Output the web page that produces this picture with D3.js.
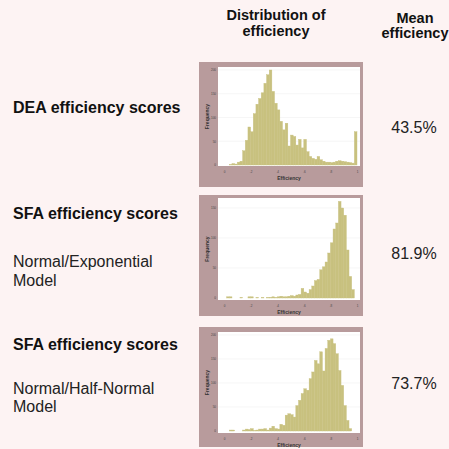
<!DOCTYPE html>
<html>
<head>
<meta charset="utf-8">
<script src="https://cdn.jsdelivr.net/npm/d3@7"></script>
<style>
  body { margin: 0; background: #fdf3f3; }
  svg { display: block; font-family: "Liberation Sans", Arial, sans-serif; }
</style>
</head>
<body>
<div id="chart"></div>
<script>
// bin starts (efficiency, bin width 0.02)
const binStarts = [0.00,0.02,0.04,0.06,0.08,0.10,0.12,0.14,0.16,0.18,
                   0.20,0.22,0.24,0.26,0.28,0.30,0.32,0.34,0.36,0.38,
                   0.40,0.42,0.44,0.46,0.48,0.50,0.52,0.54,0.56,0.58,
                   0.60,0.62,0.64,0.66,0.68,0.70,0.72,0.74,0.76,0.78,
                   0.80,0.82,0.84,0.86,0.88,0.90,0.92,0.94,0.96,0.98];
const binWidth = 0.02;

// frequencies
const deaFreq = [0,0,1,3,2,6,8,30,52,80,
                 70,108,128,140,152,172,190,200,155,130,
                 116,92,74,88,40,63,60,42,54,36,
                 54,28,18,14,12,18,11,8,6,6,
                 5,6,8,9,8,7,6,5,4,70];
const sfaExpFreq = [0,2,2,0,0,0,1,0,0,2,
                    2,0,1,0,1,0,1,1,2,1,
                    2,3,2,2,3,4,3,5,6,16,
                    10,8,14,20,29,31,47,52,60,75,
                    92,115,125,161,150,138,80,36,14,0];
const sfaHalfFreq = [0,0,2,2,0,0,0,2,4,3,
                     5,1,2,4,4,5,2,6,10,5,
                     4,14,12,33,36,34,29,53,64,78,
                     88,85,109,123,147,140,165,125,172,189,
                     192,182,161,126,95,53,22,5,0,0];

const rowTitles = ["DEA efficiency scores", "SFA efficiency scores", "SFA efficiency scores"];
const rowSubtitles = [[], ["Normal/Exponential", "Model"], ["Normal/Half-Normal", "Model"]];
const meanEff = ["43.5%", "81.9%", "73.7%"];
const xTicks = [0, 0.2, 0.4, 0.6, 0.8, 1];
const xTickLabels = ["0", ".2", ".4", ".6", ".8", "1"];
const yTicks = [[0, 50, 100, 150, 200], [0, 50, 100, 150], [0, 50, 100, 150, 200]];

const W = 449, H = 449;
const frameColor = "#b89b9c", barColor = "#c8c17f";

const svg = d3.select("#chart").append("svg")
    .attr("width", W).attr("height", H);

// column headers
const hdr = svg.append("g").attr("font-weight", "bold").attr("font-size", "14.5px")
    .attr("fill", "#111").attr("text-anchor", "middle");
hdr.append("text").attr("x", 276).attr("y", 20).text("Distribution of");
hdr.append("text").attr("x", 276).attr("y", 36).text("efficiency");
hdr.append("text").attr("x", 415).attr("y", 23).text("Mean");
hdr.append("text").attr("x", 415).attr("y", 38).text("efficiency");

// panel layout
const panels = [
  {freq: deaFreq, frame: [199, 62, 164, 125], plot: [218, 67, 142, 99], yRange: [165, 70],
   title: 113, sub: [], mean: 133},
  {freq: sfaExpFreq, frame: [199, 195, 164, 121], plot: [218, 198, 142, 102], yRange: [298, 208],
   title: 219, sub: [267, 286], mean: 259},
  {freq: sfaHalfFreq, frame: [199, 327, 164, 120], plot: [218, 332, 142, 101], yRange: [431, 335],
   title: 350, sub: [394, 412], mean: 389}
];

const x = d3.scaleLinear().domain([0, 1]).range([224, 357]);

panels.forEach(function (p, i) {
  const g = svg.append("g");
  const [fx, fy, fw, fh] = p.frame;
  const [px, py, pw, ph] = p.plot;
  const ticks = yTicks[i];
  const y = d3.scaleLinear().domain([0, ticks[ticks.length - 1]]).range(p.yRange);

  g.append("rect").attr("x", fx).attr("y", fy).attr("width", fw).attr("height", fh)
      .attr("fill", frameColor);
  g.append("rect").attr("x", px).attr("y", py).attr("width", pw).attr("height", ph)
      .attr("fill", "#fff");

  // faint grid
  g.selectAll(".grid").data(ticks.slice(1)).enter().append("line")
      .attr("x1", px).attr("x2", px + pw)
      .attr("y1", d => y(d)).attr("y2", d => y(d))
      .attr("stroke", "#f0f0f0").attr("stroke-width", 0.6);

  // bars
  g.selectAll(".bar").data(p.freq).enter().append("rect")
      .attr("x", (d, j) => x(binStarts[j]))
      .attr("width", (d, j) => x(binStarts[j] + binWidth) - x(binStarts[j]))
      .attr("y", d => y(d))
      .attr("height", d => y(0) - y(d))
      .attr("fill", barColor)
      .attr("stroke", barColor).attr("stroke-width", 0.4);

  // axes
  const xa = g.append("g").attr("transform", `translate(0,${py + ph})`)
      .call(d3.axisBottom(x).tickValues(xTicks).tickFormat((d, j) => xTickLabels[j])
            .tickSize(0).tickPadding(5));
  const ya = g.append("g").attr("transform", `translate(${px},0)`)
      .call(d3.axisLeft(y).tickValues(ticks).tickSize(0).tickPadding(2));
  [xa, ya].forEach(a => {
    a.select(".domain").remove();
    a.selectAll("text").attr("font-size", "3px").attr("fill", "#444")
        .attr("font-family", "Liberation Sans, Arial, sans-serif");
  });

  g.append("text").attr("transform", `translate(${fx + 10},${py + ph / 2}) rotate(-90)`)
      .attr("text-anchor", "middle").attr("font-size", "5px").attr("font-weight", "bold")
      .attr("fill", "#333").text("Frequency");
  g.append("text").attr("x", px + pw / 2).attr("y", py + ph + 14)
      .attr("text-anchor", "middle").attr("font-size", "5px").attr("font-weight", "bold")
      .attr("fill", "#333").text("Efficiency");

  // row labels
  svg.append("text").attr("x", 13).attr("y", p.title)
      .attr("font-size", "16px").attr("font-weight", "bold").attr("fill", "#111")
      .text(rowTitles[i]);
  rowSubtitles[i].forEach(function (s, k) {
    svg.append("text").attr("x", 13).attr("y", p.sub[k])
        .attr("font-size", "16px").attr("fill", "#222").text(s);
  });

  svg.append("text").attr("x", 414).attr("y", p.mean)
      .attr("text-anchor", "middle").attr("font-size", "16px").attr("fill", "#222")
      .text(meanEff[i]);
});
</script>
</body>
</html>
